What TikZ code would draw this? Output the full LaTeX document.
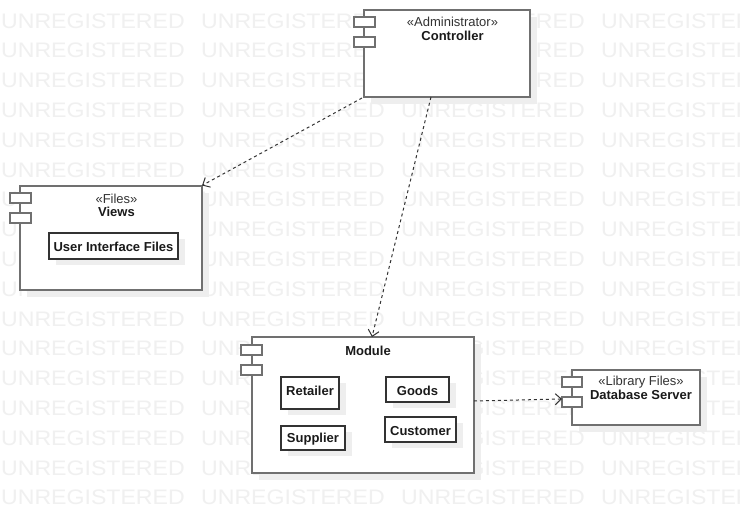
\documentclass[tikz,border=0pt]{standalone}
\usepackage{fontspec}
\setmainfont{Liberation Sans}
\newfontfamily\wmfont[FakeStretch=1.10]{Liberation Sans}
\usetikzlibrary{arrows.meta,shadows}
\definecolor{wm}{HTML}{F0F0F0}
\definecolor{shd}{HTML}{EEEEEE}
\definecolor{boxc}{HTML}{707070}
\definecolor{ink}{HTML}{333333}
\definecolor{txt}{HTML}{1A1A1A}
\tikzset{
  comp/.style={draw=boxc, line width=2pt, fill=white, inner sep=0pt, outer sep=0pt,
    general shadow={fill=shd, shadow xshift=7pt, shadow yshift=-7pt}},
  port/.style={draw=boxc, line width=2pt, fill=white, inner sep=0pt, outer sep=0pt,
    minimum width=21pt, minimum height=10pt},
  part/.style={draw=ink, line width=1.6pt, fill=white, inner sep=0pt, outer sep=0pt,
    general shadow={fill=shd, shadow xshift=7pt, shadow yshift=-6pt}},
  lbl/.style={anchor=base, inner sep=0pt, text=txt, font=\fontsize{13}{13}\selectfont\bfseries},
  ster/.style={anchor=base, inner sep=0pt, text=ink, font=\fontsize{13}{13}\selectfont},
  dep/.style={draw=ink, line width=1pt, dash pattern=on 3pt off 3pt,
    -{Straight Barb[length=6pt,width=11pt]}},
  wmk/.style={anchor=base west, inner sep=0pt, text=wm, font=\wmfont\fontsize{21}{21}\selectfont}
}
\begin{document}
\begin{tikzpicture}[x=1pt,y=-1pt]
\path[use as bounding box, clip] (0,0) rectangle (740,514);
\fill[white] (0,0) rectangle (740,514);
% watermark
\foreach \r in {0,...,16}{
  \foreach \c in {0,...,3}{
    \node[wmk] (w\r-\c) at ({1+200*\c},{28+29.8*\r}) {UNREGISTERED};
  }
}
% Controller
\node[comp, minimum width=166pt, minimum height=87pt] (ctrl) at (447,53.5) {};
\node[port] (ctrlp1) at (364.5,21.5) {};
\node[port] (ctrlp2) at (364.5,41.5) {};
\node[ster] (ctrls) at (452.5,26.5) {«Administrator»};
\node[lbl] (ctrlt) at (452.5,40.5) {Controller};
% Views
\node[comp, minimum width=182pt, minimum height=104pt] (views) at (111,237.5) {};
\node[port] (viewsp1) at (20,198) {};
\node[port] (viewsp2) at (20,218) {};
\node[ster] (viewss) at (116.5,203.5) {«Files»};
\node[lbl] (viewst) at (116.5,216.5) {Views};
\node[part, minimum width=129pt, minimum height=26pt] (uif) at (113.5,246) {};
\node[lbl] (uift) at (113.5,251) {User Interface Files};
% Module
\node[comp, minimum width=222pt, minimum height=136pt] (mod) at (363,405) {};
\node[port] (modp1) at (251.5,350) {};
\node[port] (modp2) at (251.5,370) {};
\node[lbl] (modt) at (368,355) {Module};
\node[part, minimum width=58pt, minimum height=32pt] (ret) at (310,393) {};
\node[lbl] (rett) at (310,395) {Retailer};
\node[part, minimum width=63pt, minimum height=25pt] (goods) at (417.5,389.5) {};
\node[lbl] (goodst) at (417.5,395) {Goods};
\node[part, minimum width=64pt, minimum height=24pt] (sup) at (313,438) {};
\node[lbl] (supt) at (313,442.5) {Supplier};
\node[part, minimum width=71pt, minimum height=25pt] (cust) at (420.5,429.5) {};
\node[lbl] (custt) at (420.5,435.5) {Customer};
% Database Server
\node[comp, minimum width=128pt, minimum height=55pt] (db) at (636,397.5) {};
\node[port, minimum width=20pt] (dbp1) at (572,382) {};
\node[port, minimum width=20pt] (dbp2) at (572,402) {};
\node[ster] (dbs) at (641,385) {«Library Files»};
\node[lbl] (dbt) at (641,399) {Database Server};
% dependencies
\draw[dep] ([xshift=-2pt,yshift=-1pt]ctrl.south west) -- (views.north east);
\draw[dep] ([xshift=67pt]ctrl.south west) -- ([xshift=120pt]mod.north west);
\draw[dep] ([yshift=4pt]mod.east) -- ([yshift=3pt]dbp2.west);
\end{tikzpicture}
\end{document}
